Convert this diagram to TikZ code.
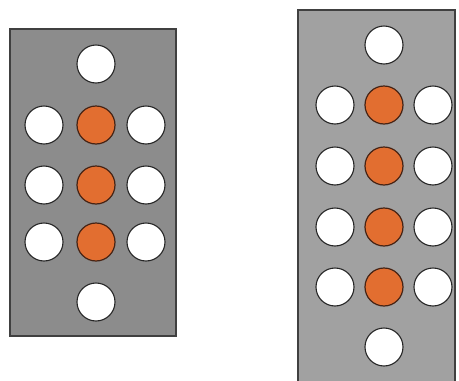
\documentclass[tikz,border=0pt]{standalone}
\definecolor{dotorange}{RGB}{226,110,48}
\definecolor{dotedge}{RGB}{70,35,20}
\begin{document}
\begin{tikzpicture}[x=1pt,y=-1pt,
  panelL/.style={fill=black!45, draw=black!75, line width=1.2pt},
  wdot/.style={circle, minimum size=38pt, inner sep=0pt, fill=white, draw=black!85, line width=1.1pt},
  odot/.style={circle, minimum size=38pt, inner sep=0pt, fill=dotorange, draw=dotedge, line width=1.2pt}]
\useasboundingbox (0,0) rectangle (459,381);
% left panel
\draw[panelL] (10,29) rectangle (176,336);
\node[wdot] (lt) at (96,64) {};
\foreach \y/\n in {125/1,185/2,242/3}{
  \node[wdot] (ll\n) at (44,\y) {};
  \node[odot] (lc\n) at (96,\y) {};
  \node[wdot] (lr\n) at (146,\y) {};
}
\node[wdot] (lb) at (96,302) {};
% right panel
\fill[black!37] (298,10) rectangle (455,381);
\draw[black!75, line width=1.2pt] (298,381) -- (298,10) -- (455,10) -- (455,381);
\node[wdot] (rt) at (384,45) {};
\foreach \y/\n in {105/1,166/2,227/3,287/4}{
  \node[wdot] (rl\n) at (335,\y) {};
  \node[odot] (rc\n) at (384,\y) {};
  \node[wdot] (rr\n) at (433,\y) {};
}
\node[wdot] (rb) at (384,347) {};
\end{tikzpicture}
\end{document}
